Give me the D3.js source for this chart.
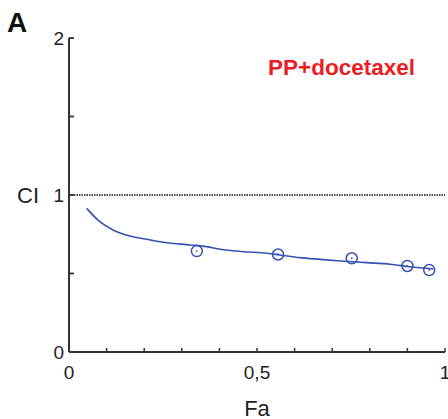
<!DOCTYPE html>
<html>
<head>
<meta charset="utf-8">
<script src="https://cdn.jsdelivr.net/npm/d3@7"></script>
<style>
  html, body { margin: 0; padding: 0; background: #fff; }
  svg { display: block; }
  text { font-family: "Liberation Sans", Arial, sans-serif; }
</style>
</head>
<body>
<svg id="chart" width="448" height="419"></svg>
<script>
// Fraction affected (Fa) vs combination index (CI) for PP+docetaxel
const curveFa = [0.047, 0.082, 0.117, 0.162, 0.207, 0.260, 0.322, 0.366, 0.402, 0.463,
                 0.526, 0.561, 0.614, 0.668, 0.721, 0.792, 0.854, 0.907, 0.969];
const curveCI = [0.915, 0.830, 0.777, 0.739, 0.718, 0.696, 0.682, 0.671, 0.654, 0.639,
                 0.629, 0.618, 0.601, 0.590, 0.580, 0.569, 0.559, 0.543, 0.529];
const pointFa = [0.340, 0.556, 0.752, 0.900, 0.958];
const pointCI = [0.643, 0.621, 0.597, 0.548, 0.522];
const xTickLabels = ["0", "0,5", "1"];
const yTickLabels = ["0", "1", "2"];
const comboLabel = "PP+docetaxel";

const svg = d3.select("#chart");
const x = d3.scaleLinear().domain([0, 1]).range([69, 445]);
const y = d3.scaleLinear().domain([0, 2]).range([352, 38]);

const axisColor = "#333";
const blue = "#3552b0";

// reference line at CI = 1
svg.append("line")
  .attr("x1", x(0)).attr("x2", x(1))
  .attr("y1", y(1)).attr("y2", y(1))
  .attr("stroke", "#111").attr("stroke-width", 1.5)
  .attr("stroke-dasharray", "1.5,1");

// axes lines
svg.append("line")
  .attr("x1", x(0)).attr("x2", x(0))
  .attr("y1", y(0)).attr("y2", y(2))
  .attr("stroke", axisColor).attr("stroke-width", 2);
svg.append("line")
  .attr("x1", x(0)).attr("x2", x(1))
  .attr("y1", y(0)).attr("y2", y(0))
  .attr("stroke", axisColor).attr("stroke-width", 2);

// x minor ticks pointing inward
svg.selectAll(".xt").data(d3.range(1, 11).map(i => i / 10))
  .enter().append("line")
  .attr("x1", d => x(d)).attr("x2", d => x(d))
  .attr("y1", y(0)).attr("y2", y(0) - 4)
  .attr("stroke", axisColor).attr("stroke-width", 1.5);

// y ticks pointing inward
svg.selectAll(".yt").data([0.5, 1, 1.5, 2])
  .enter().append("line")
  .attr("x1", x(0)).attr("x2", x(0) + 5)
  .attr("y1", d => y(d)).attr("y2", d => y(d))
  .attr("stroke", axisColor).attr("stroke-width", 1.8);

// tick labels
svg.selectAll(".xl").data([0, 0.5, 1])
  .enter().append("text")
  .attr("x", d => x(d)).attr("y", 379)
  .attr("text-anchor", "middle")
  .attr("font-size", 19).attr("fill", "#222")
  .text((d, i) => xTickLabels[i]);

svg.selectAll(".yl").data([0, 1, 2])
  .enter().append("text")
  .attr("x", 64).attr("y", d => y(d) + 7)
  .attr("text-anchor", "end")
  .attr("font-size", 19).attr("fill", "#222")
  .text((d, i) => yTickLabels[i]);

// axis titles
svg.append("text").attr("x", 257).attr("y", 416)
  .attr("text-anchor", "middle").attr("font-size", 22).attr("fill", "#222")
  .text("Fa");
svg.append("text").attr("x", 17).attr("y", 203)
  .attr("font-size", 22).attr("fill", "#222")
  .text("CI");

// panel letter
svg.append("text").attr("x", 7).attr("y", 32)
  .attr("font-size", 28).attr("font-weight", "bold").attr("fill", "#111")
  .text("A");

// combination label
svg.append("text").attr("x", 268).attr("y", 75)
  .attr("font-size", 22.5).attr("font-weight", "bold").attr("fill", "#ec1c24")
  .text(comboLabel);

// fitted CI curve
const line = d3.line().x(d => x(d[0])).y(d => y(d[1])).curve(d3.curveMonotoneX);
svg.append("path")
  .datum(curveFa.map((f, i) => [f, curveCI[i]]))
  .attr("d", line)
  .attr("fill", "none").attr("stroke", blue).attr("stroke-width", 1.6);

// experimental points
const pts = pointFa.map((f, i) => [f, pointCI[i]]);
svg.selectAll(".pt").data(pts).enter().append("circle")
  .attr("cx", d => x(d[0])).attr("cy", d => y(d[1]))
  .attr("r", 5.5).attr("fill", "none")
  .attr("stroke", blue).attr("stroke-width", 1.5);
svg.selectAll(".pc").data(pts).enter().append("circle")
  .attr("cx", d => x(d[0])).attr("cy", d => y(d[1]))
  .attr("r", 0.9).attr("fill", blue);
</script>
</body>
</html>
